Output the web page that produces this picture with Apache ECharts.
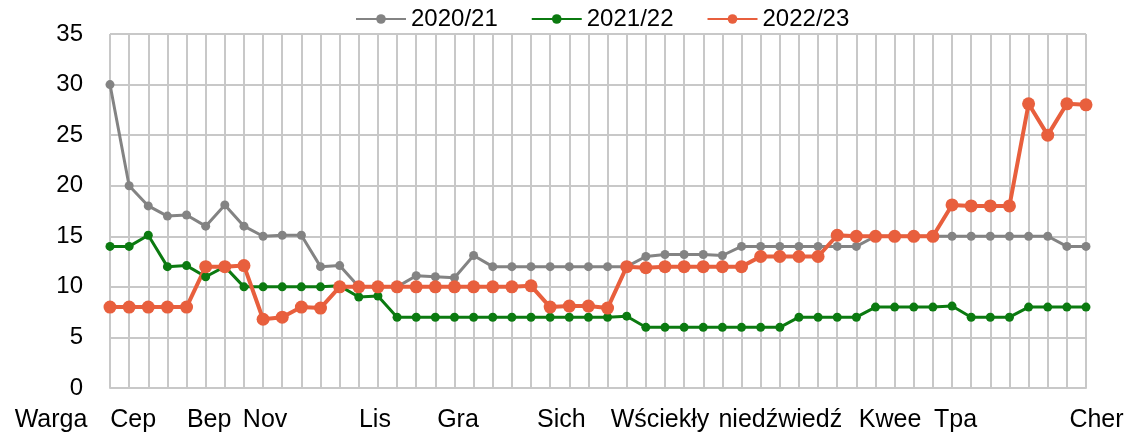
<!DOCTYPE html>
<html>
<head>
<meta charset="utf-8">
<script src="https://cdn.jsdelivr.net/npm/echarts@6/dist/echarts.min.js"></script>
<style>
  html, body { margin: 0; padding: 0; background: #fff; }
  #chart { width: 1130px; height: 436px; }
</style>
</head>
<body>
<div id="chart"></div>
<script>
// weekly points, 52 of them
const weeks = Array.from({ length: 52 }, (_, i) => 'T' + (i + 1));

const s2020 = [30, 20, 18, 17, 17.1, 16, 18.1, 16, 15, 15.1, 15.1, 12, 12.1,
  10, 10, 10, 11.1, 11, 10.9, 13.1, 12, 12, 12, 12, 12, 12, 12, 12,
  13, 13.2, 13.2, 13.2, 13.1, 14, 14, 14, 14, 14, 14, 14,
  15, 15, 15, 15, 15, 15, 15, 15, 15, 15, 14, 14];

const s2021 = [14, 14, 15.1, 12, 12.1, 11, 12, 10, 10, 10, 10, 10, 10.1, 9, 9.1,
  7, 7, 7, 7, 7, 7, 7, 7, 7, 7, 7, 7, 7.1,
  6, 6, 6, 6, 6, 6, 6, 6, 7, 7, 7, 7, 8, 8, 8, 8, 8.1, 7, 7, 7, 8, 8, 8, 8];

const s2022 = [8, 8, 8, 8, 8, 12, 12, 12.1, 6.8, 7, 8, 7.9,
  10, 10, 10, 10, 10, 10, 10, 10, 10, 10, 10.1, 8, 8.1, 8.1, 7.9,
  12, 11.9, 12, 12, 12, 12, 12, 13, 13, 13, 13,
  15.1, 15, 15, 15, 15, 15, 18.1, 18, 18, 18, 28.1, 25, 28.1, 28];

// month labels and where their centres sit, in category units
const monthNames = ['Warga', 'Cep', 'Bep', 'Nov', 'Lis', 'Gra', 'Sich', 'Wściekły', 'niedźwiedź', 'Kwee', 'Tpa', 'Cher'];
const monthAt = [-3.08, 1.2, 5.17, 8.1, 13.85, 18.19, 23.58, 28.75, 35.02, 40.77, 44.17, 51.54];

const grid = { left: 110, right: 44, top: 34, bottom: 48 };
const step = (1130 - grid.left - grid.right) / (weeks.length - 1);

const labelAt = {};
const rich = {};
monthNames.forEach((name, k) => {
  const idx = Math.min(weeks.length - 1, Math.max(0, Math.round(monthAt[k])));
  const off = (monthAt[k] - idx) * step;
  labelAt[idx] = k;
  rich['m' + k] = {
    fontSize: 25,
    color: '#000',
    fontFamily: 'Liberation Sans, Arial, sans-serif',
    padding: off < 0 ? [0, Math.round(-2 * off), 0, 0] : [0, 0, 0, Math.round(2 * off)]
  };
});

const gridColor = '#c8c8c8';

const chart = echarts.init(document.getElementById('chart'));
chart.setOption({
  animation: false,
  textStyle: { fontFamily: 'Liberation Sans, Arial, sans-serif' },
  legend: {
    left: 350,
    top: 2,
    itemWidth: 50,
    itemHeight: 12,
    itemGap: 33,
    textStyle: { fontSize: 24, color: '#000' }
  },
  grid: grid,
  xAxis: {
    type: 'category',
    data: weeks,
    boundaryGap: false,
    axisLine: { lineStyle: { color: gridColor, width: 2 } },
    axisTick: { show: false },
    splitLine: { show: true, lineStyle: { color: gridColor, width: 2 } },
    axisLabel: {
      interval: 0,
      margin: 20,
      formatter: (v, i) => labelAt[i] !== undefined ? '{m' + labelAt[i] + '|' + monthNames[labelAt[i]] + '}' : '',
      rich: rich
    }
  },
  yAxis: {
    type: 'value',
    min: 0,
    max: 35,
    interval: 5,
    axisLine: { show: false },
    axisTick: { show: false },
    splitLine: { lineStyle: { color: gridColor, width: 2 } },
    axisLabel: { fontSize: 24, color: '#000', margin: 27 }
  },
  series: [
    {
      name: '2020/21', type: 'line', data: s2020,
      color: '#838383',
      symbol: 'circle', symbolSize: 9,
      lineStyle: { width: 3 }
    },
    {
      name: '2021/22', type: 'line', data: s2021,
      color: '#0b7a10',
      symbol: 'circle', symbolSize: 9,
      lineStyle: { width: 3 }
    },
    {
      name: '2022/23', type: 'line', data: s2022,
      color: '#e85f3d',
      symbol: 'circle', symbolSize: 13,
      lineStyle: { width: 4 }
    }
  ]
});
</script>
</body>
</html>
